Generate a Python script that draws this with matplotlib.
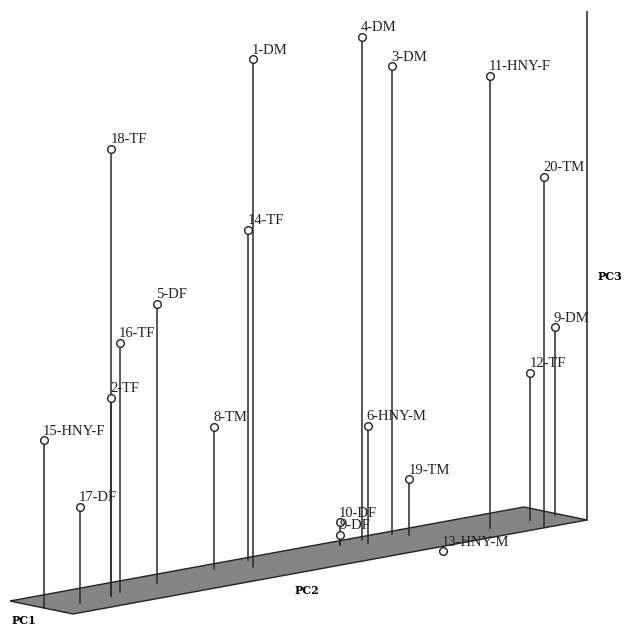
import matplotlib.pyplot as plt
from matplotlib.patches import Polygon

# sample labels and their PC scores (pc2 along the long plane edge,
# pc1 across it, pc3 the height), all read off the original picture
labels = ['15-HNY-F', '17-DF', '18-TF', '2-TF', '16-TF', '5-DF', '8-TM', '14-TF',
          '1-DM', '4-DM', '6-HNY-M', '3-DM', '19-TM', '9-DF', '10-DF', '11-HNY-F',
          '12-TF', '20-TM', '9-DM', '13-HNY-M']
pc2 = [0.00, 0.06, 0.13, 0.13, 0.16, 0.24, 0.37, 0.45,
       0.42, 0.67, 0.66, 0.73, 0.74, 0.62, 0.62, 0.86,
       0.94, 0.92, 0.99, 0.72]
pc1 = [0.54, 0.62, 0.55, 0.55, 0.44, 0.37, 0.22, 0.11,
       0.43, 0.12, 0.29, 0.11, 0.30, 0.18, 0.18, 0.60,
       0.59, 0.97, 0.57, 1.00]
pc3 = [0.33, 0.19, 0.88, 0.39, 0.49, 0.55, 0.28, 0.65,
       1.00, 0.99, 0.23, 0.92, 0.11, 0.02, 0.045, 0.89,
       0.29, 0.69, 0.37, -0.01]

# oblique view of the box (screen pixels)
origin = (10, 601)
u = (514, -94)   # pc2 direction
v = (63, 13)     # pc1 direction
w = (0, -508)    # pc3 direction


def project(a, b, h):
    x = origin[0] + a * u[0] + b * v[0] + h * w[0]
    y = origin[1] + a * u[1] + b * v[1] + h * w[1]
    return x, y


fig = plt.figure(figsize=(6.27, 6.25), dpi=100)
ax = fig.add_axes([0, 0, 1, 1])
ax.set_xlim(0, 627)
ax.set_ylim(625, 0)
ax.axis('off')

# grey base plane
corners = [project(0, 0, 0), project(1, 0, 0), project(1, 1, 0), project(0, 1, 0)]
ax.add_patch(Polygon(corners, closed=True, facecolor='#858585',
                     edgecolor='#222222', lw=1.0, zorder=2))

# vertical PC3 axis at the far corner
x0, y0 = project(1, 1, 0)
x1, y1 = project(1, 1, 1.0)
ax.plot([x0, x1], [y0, y1], color='#333333', lw=1.2, zorder=3)

for name, a, b, h in zip(labels, pc2, pc1, pc3):
    bx, by = project(a, b, 0)
    tx, ty = project(a, b, h)
    z = 3 if h >= 0 else 1
    ax.plot([bx, tx], [by, ty], color='#2a2a2a', lw=1.1, zorder=z)
    ax.plot(tx, ty, marker='o', ms=5.5, mfc='white', mec='#222222', mew=1.0, zorder=5)
    ax.text(tx - 1, ty - 9, name, fontsize=10.5, family='Liberation Serif',
            ha='left', va='center', color='#222222', zorder=6)

# axis names
ax.text(598, 276, 'PC3', fontsize=8, family='DejaVu Serif', fontweight='bold',
        ha='left', va='center')
ax.text(295, 591, 'PC2', fontsize=8, family='DejaVu Serif', fontweight='bold',
        ha='left', va='center')
ax.text(12, 621, 'PC1', fontsize=8, family='DejaVu Serif', fontweight='bold',
        ha='left', va='center')

plt.savefig('out.png', dpi=100)
